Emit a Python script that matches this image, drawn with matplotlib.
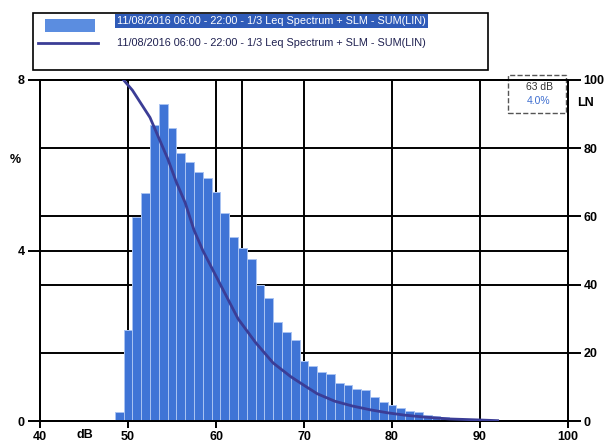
import matplotlib
matplotlib.use("Agg")
import matplotlib.pyplot as plt
from matplotlib.patches import Rectangle
from matplotlib.lines import Line2D

plt.rcParams["font.family"] = ["Liberation Sans", "DejaVu Sans"]

# histogram, 1 dB classes (% of time)
level_db = [49, 50, 51, 52, 53, 54, 55, 56, 57, 58, 59, 60, 61, 62, 63, 64,
            65, 66, 67, 68, 69, 70, 71, 72, 73, 74, 75, 76, 77, 78, 79, 80,
            81, 82, 83, 84, 85, 86, 87, 88, 89, 90]
percent = [0.2, 2.14, 4.79, 5.35, 6.95, 7.44, 6.88, 6.29, 6.08, 5.85, 5.7,
           5.38, 4.88, 4.32, 4.06, 3.8, 3.19, 2.89, 2.32, 2.09, 1.9, 1.4,
           1.3, 1.15, 1.1, 0.9, 0.85, 0.75, 0.72, 0.56, 0.45, 0.38, 0.3,
           0.23, 0.2, 0.15, 0.12, 0.09, 0.07, 0.05, 0.04, 0.03]

# LN curve (exceedance, %)
ln_db = [49.5, 50.5, 51.5, 52.5, 53.5, 54.5, 55.5, 56.5, 57.5, 58.5, 59.5,
         60.5, 61.5, 62.5, 63.5, 64.5, 65.5, 66.5, 67.5, 68.5, 69.5, 71.5,
         73.5, 75.5, 77.5, 79.5, 81.5, 83.5, 86.5, 90, 92]
ln_val = [100, 97, 93, 89, 83, 77, 70, 64, 56, 50, 45, 40, 35, 30, 26.5, 23,
          20, 17, 15, 13, 11.3, 8, 5.8, 4.4, 3.3, 2.4, 1.7, 1.2, 0.6, 0.3, 0.1]

cursor_db = 63
cursor_pct = 4.0

x_ticks = [40, 50, 60, 70, 80, 90, 100]
pct_ticks = [0, 4, 8]
ln_ticks = [0, 20, 40, 60, 80, 100]

label = "11/08/2016 06:00 - 22:00 - 1/3 Leq Spectrum + SLM - SUM(LIN)"

W, H = 605, 447
fig = plt.figure(figsize=(W / 100, H / 100), dpi=100)
ax = fig.add_axes([40 / W, 1 - 421 / H, 528 / W, 341 / H])
ax2 = ax.twinx()

bar_col = "#3f74d6"
line_col = "#3b3d96"

# grid on the LN axis (behind), bars + curve on the % axis (front)
for v in ln_ticks[1:-1]:
    ax2.axhline(v, color="black", lw=1.4, zorder=0)
for v in x_ticks[1:-1]:
    ax2.axvline(v, color="black", lw=1.4, zorder=0)
ax2.axvline(cursor_db, color="black", lw=1.4, zorder=0)

ax.set_zorder(ax2.get_zorder() + 1)
ax.patch.set_visible(False)

ax.set_xlim(40, 100)
ax.set_ylim(0, 8)
ax2.set_ylim(0, 100)

ax.axhline(cursor_pct, color="black", lw=1.4, zorder=0)
ax.bar(level_db, percent, width=1.0, color=bar_col, edgecolor="#a9c3f2",
       linewidth=0.7, zorder=2)
ax.plot(ln_db, ln_val, transform=ax2.transData, color=line_col, lw=2,
        zorder=3)

ax.set_xticks(x_ticks)
ax.set_yticks(pct_ticks)
ax2.set_yticks(ln_ticks)
ax.tick_params(axis="both", direction="out", length=9, width=1.4,
               labelsize=9, pad=2)
ax.tick_params(axis="x", length=5)
ax2.tick_params(axis="y", direction="out", length=9, width=1.4,
                labelsize=9, pad=2)
for t in ax.get_xticklabels() + ax.get_yticklabels() + ax2.get_yticklabels():
    t.set_fontweight("bold")

for a in (ax, ax2):
    for s in a.spines.values():
        s.set_linewidth(1.4)
        s.set_color("black")

fig.text(85 / W, 1 - 435 / H, "dB", fontsize=9, fontweight="bold",
         ha="center", va="center")
fig.text(15 / W, 1 - 160 / H, "%", fontsize=9, fontweight="bold",
         ha="center", va="center")
fig.text(586 / W, 1 - 103 / H, "LN", fontsize=9, fontweight="bold",
         ha="center", va="center")

# legend box
fig.add_artist(Rectangle((33 / W, 1 - 70 / H), 455 / W, 57 / H,
                         transform=fig.transFigure, fill=False,
                         edgecolor="black", lw=1.2))
fig.add_artist(Rectangle((45 / W, 1 - 32 / H), 50 / W, 13 / H,
                         transform=fig.transFigure, facecolor="#5b8de0",
                         edgecolor="none"))
fig.add_artist(Line2D([38 / W, 98 / W], [1 - 43 / H, 1 - 43 / H],
                      transform=fig.transFigure, color=line_col, lw=2))
fig.text(117 / W, 1 - 21 / H, label, fontsize=7.8, color="white",
         va="center", ha="left",
         bbox=dict(facecolor="#2f5bb8", edgecolor="none", pad=1.5))
fig.text(117 / W, 1 - 43 / H, label, fontsize=7.8, color="#1e2050",
         va="center", ha="left")

# cursor read-out
fig.add_artist(Rectangle((508 / W, 1 - 113 / H), 58 / W, 38 / H,
                         transform=fig.transFigure, facecolor="white",
                         edgecolor="#555555", lw=1, ls="--"))
fig.text(539 / W, 1 - 87 / H, f"{cursor_db} dB", fontsize=7.5,
         color="#333333", ha="center", va="center")
fig.text(539 / W, 1 - 101 / H, f"{cursor_pct:.1f}%", fontsize=7.5,
         color="#3f6fd0", ha="center", va="center")

fig.savefig("out.png", dpi=100)
